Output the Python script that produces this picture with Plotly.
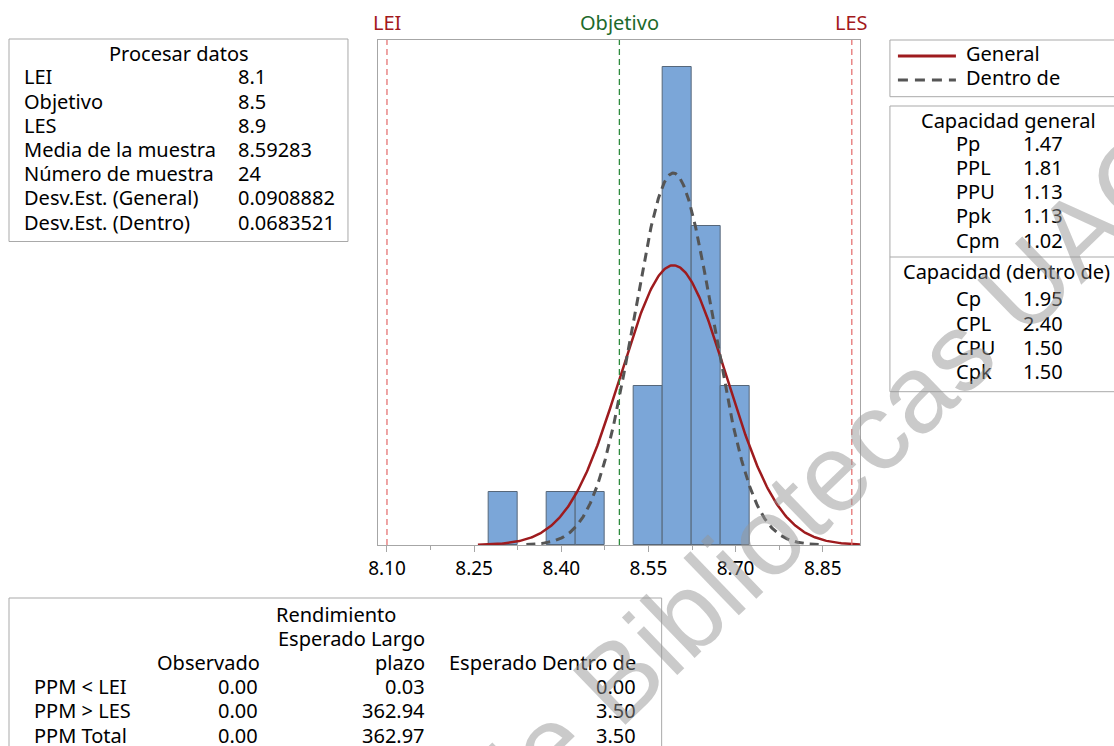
import numpy as np
import plotly.graph_objects as go

# Process data
LEI, OBJETIVO, LES = 8.1, 8.5, 8.9
MEDIA = 8.59283
N = 24
SD_GENERAL = 0.0908882
SD_DENTRO = 0.0683521

# Histogram bins (centres and counts)
bin_centers = [8.30, 8.40, 8.45, 8.55, 8.60, 8.65, 8.70]
bin_counts = [1, 1, 1, 3, 9, 6, 3]
BIN_WIDTH = 0.05

tick_vals = [8.10, 8.25, 8.40, 8.55, 8.70, 8.85]
tick_text = ["8.10", "8.25", "8.40", "8.55", "8.70", "8.85"]
minor_ticks = [8.175, 8.325, 8.475, 8.625, 8.775]

proc_labels = ["LEI", "Objetivo", "LES", "Media de la muestra", "Número de muestra",
               "Desv.Est. (General)", "Desv.Est. (Dentro)"]
proc_values = ["8.1", "8.5", "8.9", "8.59283", "24", "0.0908882", "0.0683521"]

cap_gen_labels = ["Pp", "PPL", "PPU", "Ppk", "Cpm"]
cap_gen_values = ["1.47", "1.81", "1.13", "1.13", "1.02"]
cap_dentro_labels = ["Cp", "CPL", "CPU", "Cpk"]
cap_dentro_values = ["1.95", "2.40", "1.50", "1.50"]

rend_rows = ["PPM < LEI", "PPM > LES", "PPM Total"]
rend_obs = ["0.00", "0.00", "0.00"]
rend_largo = ["0.03", "362.94", "362.97"]
rend_dentro = ["0.00", "3.50", "3.50"]

W, H = 1114, 746
X0, XS = 8, 0.992          # horizontal page offset / scale of the rendered figure
FONT = "Noto Sans"
FS = 20
BOX_LINE = "#A9A9A9"


def px(x):
    return (x - X0) / (XS * W)


def py(y):
    return 1 - y / H


def normal_curve(sd, span=3.7):
    x = np.linspace(MEDIA - span * sd, MEDIA + span * sd, 400)
    y = N * BIN_WIDTH * np.exp(-0.5 * ((x - MEDIA) / sd) ** 2) / (sd * np.sqrt(2 * np.pi))
    return x, y


fig = go.Figure()

fig.add_trace(go.Bar(
    x=bin_centers, y=bin_counts, width=BIN_WIDTH,
    marker=dict(color="#7BA6D8", line=dict(color="#56677A", width=1)),
    showlegend=False,
))

xg, yg = normal_curve(SD_GENERAL)
fig.add_trace(go.Scatter(x=xg, y=yg, mode="lines",
                         line=dict(color="#9E1B1E", width=2.5), showlegend=False))
xd, yd = normal_curve(SD_DENTRO)
fig.add_trace(go.Scatter(x=xd, y=yd, mode="lines",
                         line=dict(color="#555555", width=3, dash="9px,6px"), showlegend=False))

shapes = []
# Specification and target lines
for xv, col in [(LEI, "#E57373"), (LES, "#E57373"), (OBJETIVO, "#2E8B3E")]:
    shapes.append(dict(type="line", xref="x", yref="y domain", x0=xv, x1=xv, y0=0, y1=1,
                       line=dict(color=col, width=1.3, dash="6px,4px"), layer="above"))

annotations = []
for xv, txt, col in [(LEI, "LEI", "#A3191C"), (OBJETIVO, "Objetivo", "#1D6A2C"), (LES, "LES", "#A3191C")]:
    annotations.append(dict(x=xv, xref="x", y=py(22), yref="paper", text=txt, showarrow=False,
                            font=dict(family=FONT, size=FS, color=col),
                            xanchor="center", yanchor="middle"))


def box(x0, y0, x1, y1):
    shapes.append(dict(type="rect", xref="paper", yref="paper",
                       x0=px(x0), x1=px(x1), y0=py(y1), y1=py(y0),
                       line=dict(color=BOX_LINE, width=1), fillcolor="rgba(0,0,0,0)"))


def hline(x0, x1, y):
    shapes.append(dict(type="line", xref="paper", yref="paper",
                       x0=px(x0), x1=px(x1), y0=py(y), y1=py(y),
                       line=dict(color=BOX_LINE, width=1)))


def text(x, y, s, anchor="left", color="#000000", size=FS):
    shift = {"left": -3, "right": 1, "center": 0}[anchor]
    annotations.append(dict(x=px(x + shift), y=py(y), xref="paper", yref="paper", text=s,
                            showarrow=False, xanchor=anchor, yanchor="middle",
                            font=dict(family=FONT, size=size, color=color)))


# Process data box
box(8, 39, 347, 241.5)
text(178, 53, "Procesar datos", "center")
for i, (lab, val) in enumerate(zip(proc_labels, proc_values)):
    yy = 77 + i * 24.2
    text(24, yy, lab)
    text(238, yy, val)

# Legend box
box(889, 40, 1125, 96.7)
shapes.append(dict(type="line", xref="paper", yref="paper", x0=px(897), x1=px(955),
                   y0=py(56), y1=py(56), line=dict(color="#9E1B1E", width=3)))
shapes.append(dict(type="line", xref="paper", yref="paper", x0=px(897), x1=px(955),
                   y0=py(80), y1=py(80), line=dict(color="#555555", width=3, dash="10px,7px")))
text(966, 53, "General")
text(966, 78, "Dentro de")

# Capability box
box(889, 106, 1125, 391.7)
hline(889, 1125, 257)
text(1008, 120, "Capacidad general", "center")
for i, (lab, val) in enumerate(zip(cap_gen_labels, cap_gen_values)):
    yy = 143 + i * 24.3
    text(956, yy, lab)
    text(1023, yy, val)
text(903, 271, "Capacidad (dentro de)")
for i, (lab, val) in enumerate(zip(cap_dentro_labels, cap_dentro_values)):
    yy = 299 + i * 24.3
    text(956, yy, lab)
    text(1023, yy, val)

# Performance box
box(8, 598, 660.7, 770)
text(335, 614, "Rendimiento", "center")
text(425, 638, "Esperado Largo", "right")
text(260, 662, "Observado", "right")
text(425, 662, "plazo", "right")
text(636, 662, "Esperado Dentro de", "right")
for i, lab in enumerate(rend_rows):
    yy = 686 + i * 24.5
    text(34, yy, lab)
    text(258, yy, rend_obs[i], "right")
    text(425, yy, rend_largo[i], "right")
    text(636, yy, rend_dentro[i], "right")

# Watermark
annotations.append(dict(x=px(822), y=py(480), xref="paper", yref="paper",
                        text="de Bibliotecas UAC", showarrow=False, textangle=-44,
                        xanchor="center", yanchor="middle",
                        font=dict(family="Liberation Sans", size=110, color="rgba(150,150,150,0.5)")))

fig.update_layout(
    width=W, height=H,
    margin=dict(l=0, r=0, t=0, b=0),
    paper_bgcolor="white", plot_bgcolor="white",
    bargap=0,
    shapes=shapes,
    annotations=annotations,
    xaxis=dict(domain=[px(376.7), px(859)], range=[8.084, 8.914],
               tickvals=tick_vals, ticktext=tick_text, ticks="outside", ticklen=6,
               tickcolor="#A6A6A6", showline=True, linecolor="#A6A6A6", mirror=True,
               showgrid=False, zeroline=False,
               tickfont=dict(family=FONT, size=19, color="#000000"),
               minor=dict(tickvals=minor_ticks, ticks="outside",
                          ticklen=4, tickcolor="#A6A6A6", showgrid=False)),
    yaxis=dict(domain=[py(545), py(40)], range=[0, 9.51], showticklabels=False, ticks="",
               showline=True, linecolor="#A6A6A6", mirror=True, showgrid=False, zeroline=False),
)

fig.write_html("out.html")
